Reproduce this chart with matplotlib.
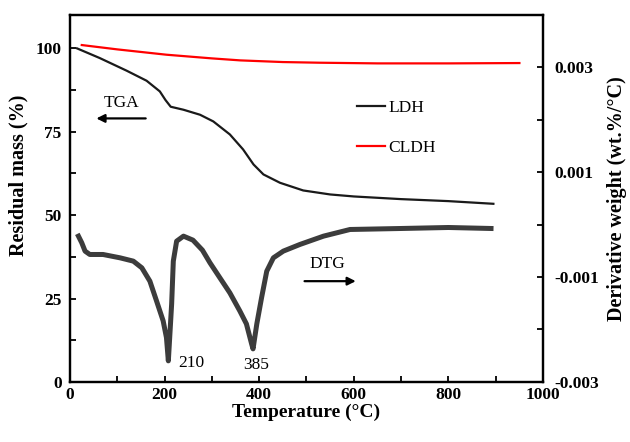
import numpy as np
import matplotlib
matplotlib.use("Agg")
import matplotlib.pyplot as plt
from matplotlib.ticker import MultipleLocator

plt.rcParams['font.family'] = ['Liberation Serif', 'DejaVu Serif']

# TGA curves (residual mass, %)
t_ldh = [15, 63, 120, 162, 190, 202, 213, 240, 275, 303, 338, 366, 388, 409,
         444, 493, 550, 600, 700, 800, 895]
m_ldh = [100, 97.1, 93.3, 90.3, 87.1, 84.5, 82.5, 81.6, 80.1, 78.1, 74.2,
         69.7, 65.2, 62.2, 59.7, 57.4, 56.2, 55.6, 54.8, 54.2, 53.4]

t_cldh = [25, 100, 204, 300, 360, 450, 528, 650, 800, 950]
m_cldh = [101, 99.7, 98.1, 97.0, 96.4, 95.9, 95.7, 95.5, 95.5, 95.6]

# DTG curve (wt.%/°C)
t_dtg = [18, 25, 32, 42, 70, 106, 134, 152, 169, 183, 197, 204, 208, 215,
         218.5, 225.5, 240, 260, 280, 296, 317, 338, 359, 373, 384, 387, 395,
         405, 416, 430, 451, 486, 536, 592, 700, 800, 890]
d_dtg = [-0.000219, -0.000346, -0.000505, -0.000569, -0.000569, -0.000633,
         -0.000696, -0.000824, -0.001078, -0.001454, -0.001835, -0.002154,
         -0.002599, -0.001511, -0.000696, -0.000315, -0.000219, -0.000295,
         -0.000486, -0.000728, -0.001015, -0.001301, -0.001645, -0.001893,
         -0.002275, -0.00237, -0.001893, -0.001396, -0.000887, -0.000633,
         -0.000505, -0.000378, -0.000219, -0.000092, -0.000073, -0.000054,
         -0.000073]

fig = plt.figure(figsize=(6.3, 4.42), dpi=100)
ax = fig.add_axes([0.111, 0.136, 0.751, 0.830])
ax2 = ax.twinx()

ax2.plot(t_dtg, d_dtg, color='#3c3c3c', lw=3.6, solid_joinstyle='round')
l1, = ax.plot(t_ldh, m_ldh, color='#1a1a1a', lw=1.6, label='LDH')
l2, = ax.plot(t_cldh, m_cldh, color='#ff0000', lw=1.6, label='CLDH')
ax.set_zorder(ax2.get_zorder() + 1)
ax.patch.set_visible(False)

ax.set_xlim(0, 1000)
ax.set_ylim(0, 110)
ax2.set_ylim(-0.003, 0.004)

ax.xaxis.set_major_locator(MultipleLocator(200))
ax.xaxis.set_minor_locator(MultipleLocator(100))
ax.yaxis.set_major_locator(MultipleLocator(25))
ax.yaxis.set_minor_locator(MultipleLocator(12.5))
ax2.set_yticks([-0.003, -0.001, 0.001, 0.003])
ax2.set_yticklabels(['-0.003', '-0.001', '0.001', '0.003'])
ax2.yaxis.set_minor_locator(MultipleLocator(0.001))

for a in (ax, ax2):
    a.tick_params(which='both', direction='in', length=4, width=1.3,
                  labelsize=12.5, top=False)
    for s in a.spines.values():
        s.set_linewidth(1.6)
for lab in ax.get_xticklabels() + ax.get_yticklabels() + ax2.get_yticklabels():
    lab.set_fontweight('bold')
ax.tick_params(axis='y', pad=6)
ax2.tick_params(axis='y', pad=8)

ax.set_xlabel('Temperature (°C)', fontsize=14, fontweight='bold', labelpad=1)
ax.set_ylabel('Residual mass (%)', fontsize=14.5, fontweight='bold')
ax.yaxis.set_label_coords(-0.088, 0.564)
ax2.set_ylabel('Derivative weight (wt.%/°C)', fontsize=14.5, fontweight='bold',
               labelpad=6)

# annotations
ax.text(110, 83.5, 'TGA', fontsize=12.5, ha='center', va='center')
ax.annotate('', xy=(50, 79), xytext=(166, 79),
            arrowprops=dict(arrowstyle='-|>', color='black', lw=1.6,
                            mutation_scale=12))
ax.text(507, 35.3, 'DTG', fontsize=12.5, ha='left', va='center')
ax.annotate('', xy=(610, 30.2), xytext=(490, 30.2),
            arrowprops=dict(arrowstyle='-|>', color='black', lw=1.6,
                            mutation_scale=12))
ax.text(228, 5.7, '210', fontsize=12.5, ha='left', va='center')
ax.text(393, 5.2, '385', fontsize=12.5, ha='center', va='center')

ax.legend(handles=[l1, l2], loc='upper left', bbox_to_anchor=(0.607, 0.769),
          frameon=False, fontsize=12.5, handlelength=1.6, handletextpad=0.2,
          labelspacing=1.4, borderpad=0, borderaxespad=0)

fig.savefig('out.png', dpi=100)
